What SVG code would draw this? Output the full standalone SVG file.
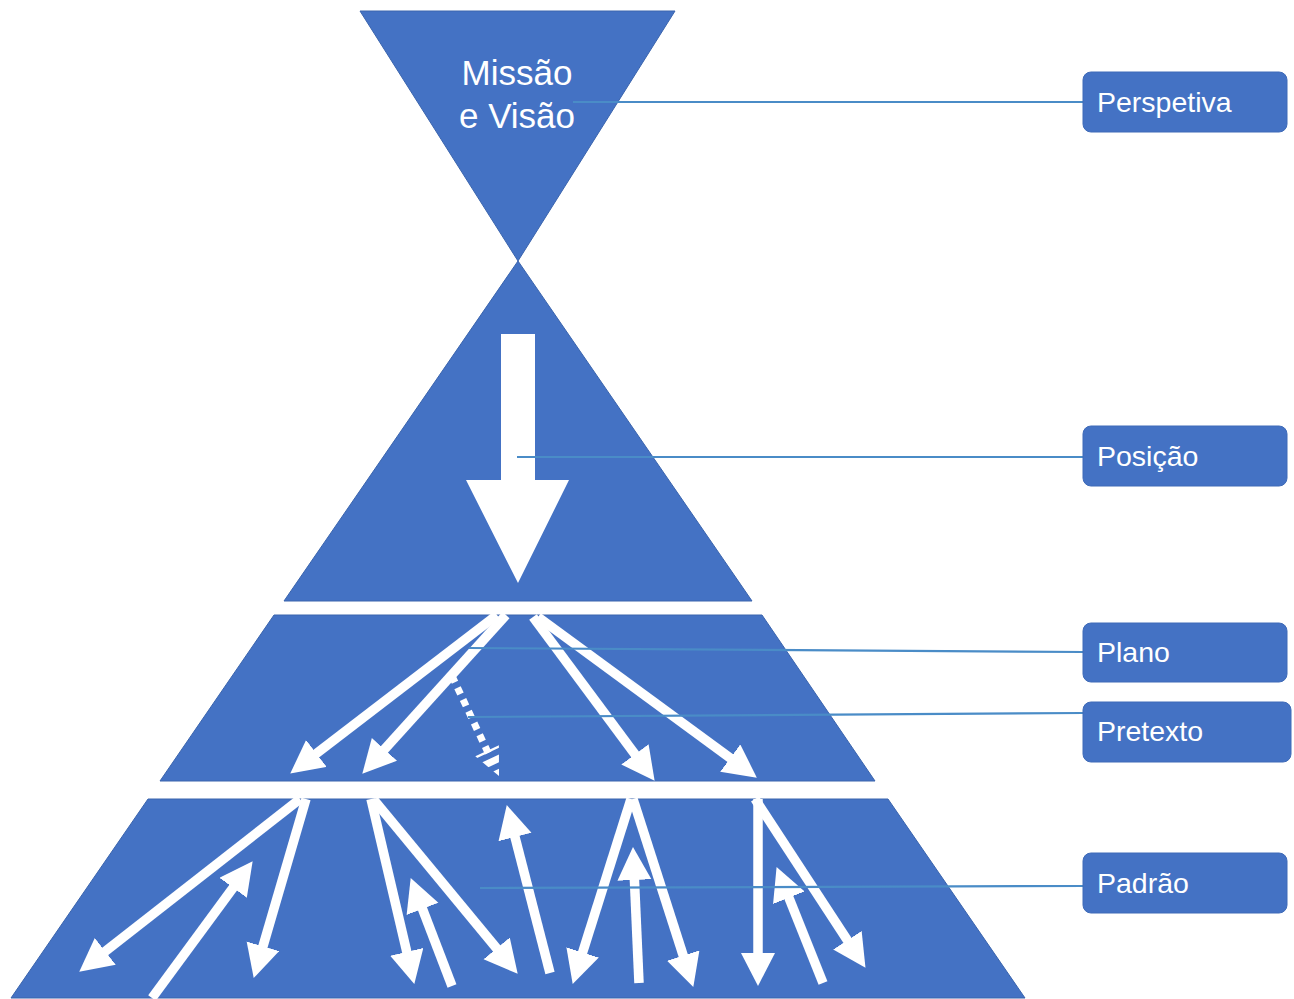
<svg xmlns="http://www.w3.org/2000/svg" width="1294" height="999" viewBox="0 0 1294 999">
<style>
.shape{fill:#4472C4;stroke:#3A64AD;stroke-width:1}
.arr{stroke:#FFFFFF;stroke-width:9.5;fill:none;marker-end:url(#ah)}
.con{stroke:#4A8CC7;stroke-width:2.2;fill:none}
.box{fill:#4472C4;stroke:#3F6BB8;stroke-width:1}
.lbl{font-family:"Liberation Sans",Arial,sans-serif;font-size:28.5px;fill:#FFFFFF}
.title{font-family:"Liberation Sans",Arial,sans-serif;font-size:35px;fill:#FFFFFF;text-anchor:middle}
</style>
<defs>
<marker id="ah" markerUnits="userSpaceOnUse" markerWidth="40" markerHeight="40" refX="12" refY="17" orient="auto">
<path d="M0,0 L33,17 L0,34 Z" fill="#FFFFFF"/>
</marker>
<clipPath id="dhead"><polygon points="499,776 475.3,756.2 498.9,745.2"/></clipPath>
</defs>
<rect width="1294" height="999" fill="#FFFFFF"/>
<g id="missao">
<polygon class="shape" points="360,11 675,11 518,261"/>
<text class="title" x="517" y="85">Missão</text>
<text class="title" x="517" y="128">e Visão</text>
</g>
<g id="posicao-tri">
<polygon class="shape" points="518,261 752,601 284,601"/>
<polygon fill="#FFFFFF" points="501,334 535,334 535,480 569,480 518,583 466,480 501,480"/>
</g>
<g id="plano-trap">
<polygon class="shape" points="274,615 762,615 875,781 160,781"/>
</g>
<g id="padrao-trap">
<polygon class="shape" points="148,799 888,799 1025,998 11,998"/>
</g>
<g id="arrows">
<line class="arr" x1="497" y1="615" x2="306.9" y2="760.8"/>
<line class="arr" x1="506" y1="615" x2="376.4" y2="758.2"/>
<line class="arr" x1="533" y1="617" x2="642.1" y2="763.9"/>
<line class="arr" x1="538" y1="617" x2="739.9" y2="765.2"/>
<line x1="452" y1="676" x2="490.5" y2="757.9" stroke="#FFFFFF" stroke-width="7" stroke-dasharray="7 6"/>
<line x1="452" y1="676" x2="499" y2="776" stroke="#FFFFFF" stroke-width="40" stroke-dasharray="7 6" clip-path="url(#dhead)"/>
<line class="arr" x1="300" y1="799" x2="95.8" y2="958.7"/>
<line class="arr" x1="152" y1="998" x2="240.2" y2="878.1"/>
<line class="arr" x1="306" y1="799" x2="259.6" y2="957.8"/>
<line class="arr" x1="371" y1="799" x2="409.5" y2="963.5"/>
<line class="arr" x1="374" y1="800" x2="504.3" y2="957.6"/>
<line class="arr" x1="452" y1="986" x2="418.2" y2="897.7"/>
<line class="arr" x1="550" y1="973" x2="512" y2="825.4"/>
<line class="arr" x1="631" y1="799" x2="579" y2="963.9"/>
<line class="arr" x1="633" y1="799" x2="686.9" y2="967"/>
<line class="arr" x1="639" y1="983" x2="633.9" y2="868"/>
<line class="arr" x1="758" y1="799" x2="758" y2="965"/>
<line class="arr" x1="755" y1="799" x2="854" y2="950.3"/>
<line class="arr" x1="823" y1="983" x2="784.4" y2="886.6"/>
</g>
<g id="connectors">
<line class="con" x1="573" y1="102" x2="1083" y2="102"/>
<line class="con" x1="517" y1="457" x2="1083" y2="457"/>
<line class="con" x1="469" y1="648" x2="1083" y2="652"/>
<line class="con" x1="468" y1="717" x2="1083" y2="713"/>
<line class="con" x1="480" y1="888" x2="1083" y2="886"/>
</g>
<g id="perspetiva">
<rect class="box" x="1083" y="72" width="204" height="60" rx="8"/>
<text class="lbl" x="1097" y="112">Perspetiva</text>
</g>
<g id="posicao">
<rect class="box" x="1083" y="426" width="204" height="60" rx="8"/>
<text class="lbl" x="1097" y="466">Posição</text>
</g>
<g id="plano">
<rect class="box" x="1083" y="623" width="204" height="59" rx="8"/>
<text class="lbl" x="1097" y="662">Plano</text>
</g>
<g id="pretexto">
<rect class="box" x="1083" y="702" width="208" height="60" rx="8"/>
<text class="lbl" x="1097" y="741">Pretexto</text>
</g>
<g id="padrao">
<rect class="box" x="1083" y="853" width="204" height="60" rx="8"/>
<text class="lbl" x="1097" y="893">Padrão</text>
</g>
</svg>
